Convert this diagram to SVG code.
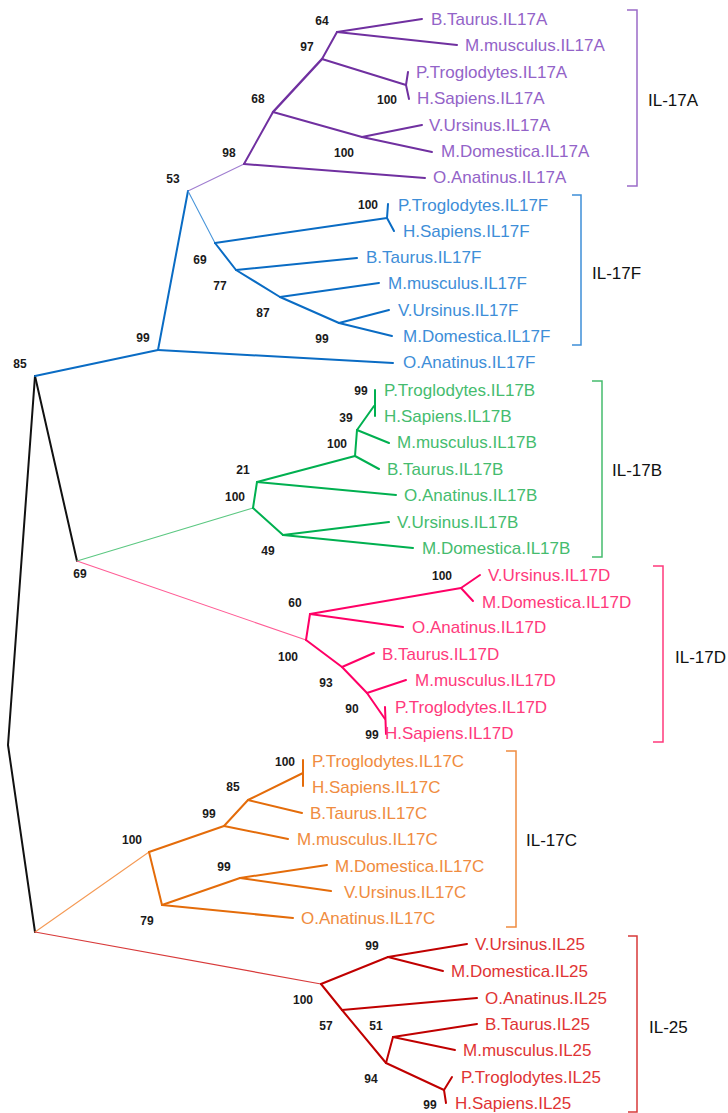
<svg xmlns="http://www.w3.org/2000/svg" width="728" height="1113" viewBox="0 0 728 1113">
<style>
.bg{fill:#ffffff}
.e{fill:none;stroke-width:2;stroke-linecap:round;stroke-linejoin:round}
.t{stroke-width:1.1}
.k{stroke:#111111}
.pA{stroke:#7030A0}.pAt{stroke:#A07ED0}
.pF{stroke:#0A6CC4}.pFt{stroke:#4A96DA}
.pB{stroke:#00B050}.pBt{stroke:#5CC882}
.pD{stroke:#FF0066}.pDt{stroke:#FF5C95}
.pC{stroke:#E46C0A}.pCt{stroke:#F59A55}
.pR{stroke:#C00000}.pRt{stroke:#D83A3A}
.leaf{font-family:"Liberation Sans",Arial,sans-serif;font-size:17px}
.cA{fill:#9363C8}.cF{fill:#3E8ED8}.cB{fill:#45BC6E}.cD{fill:#FF3A7C}.cC{fill:#F08C40}.cR{fill:#E03434}
.bs{font-family:"Liberation Sans",Arial,sans-serif;font-size:12px;font-weight:bold;fill:#1a1a1a;text-anchor:middle}
.grp{font-family:"Liberation Sans",Arial,sans-serif;font-size:17px;fill:#111111}
.br{fill:none;stroke-width:1.5}
.bA{stroke:#9A6BC8}.bF{stroke:#3E8ED8}.bB{stroke:#45BC6E}.bD{stroke:#FF3A7C}.bC{stroke:#F08C40}.bR{stroke:#D83A3A}
</style>
<rect class="bg" x="0" y="0" width="728" height="1113"/>
<g id="connectors">
  <path class="e k" d="M35,376 L77,561"/>
  <path class="e k" d="M35,376 L8,745 L35,932"/>
  <!-- IL-17A -->
  <path class="e t pAt" d="M188,191 L244,164"/>
  <path class="e pA" d="M244,164 L273,112"/>
  <path class="e pA" style="stroke-width:2.5" d="M273,112 L322,59"/>
  <path class="e pA" d="M322,59 L337,32"/>
  <path class="e pA" d="M337,32 L422,19"/>
  <path class="e pA" d="M337,32 L457,45"/>
  <path class="e pA" d="M322,59 L406,85"/>
  <path class="e pA" d="M408,72 L406,85 L409,99"/>
  <path class="e pA" d="M273,112 L362,137"/>
  <path class="e pA" d="M362,137 L422,125"/>
  <path class="e pA" d="M362,137 L432,152"/>
  <path class="e pA" d="M244,164 L425,178"/>
  <!-- IL-17F -->
  <path class="e pF" d="M35,376 L158,350"/>
  <path class="e pF" d="M158,350 L188,191"/>
  <path class="e pF" d="M158,350 L393,363"/>
  <path class="e t pFt" d="M188,191 L215,243"/>
  <path class="e pF" d="M215,243 L236,270 L280,297 L339,323"/>
  <path class="e pF" d="M215,243 L387,218"/>
  <path class="e pF" d="M388,204 L387,218 L394,231"/>
  <path class="e pF" d="M236,270 L357,258"/>
  <path class="e pF" d="M280,297 L379,283"/>
  <path class="e pF" d="M339,323 L389,310"/>
  <path class="e pF" d="M339,323 L392,336"/>
  <!-- IL-17B -->
  <path class="e t pBt" d="M77,561 L253,508"/>
  <path class="e pB" d="M253,508 L257,482"/>
  <path class="e pB" d="M253,508 L283,535"/>
  <path class="e pB" d="M283,535 L389,522"/>
  <path class="e pB" d="M283,535 L413,548"/>
  <path class="e pB" d="M257,482 L396,495"/>
  <path class="e pB" d="M257,482 L355,456"/>
  <path class="e pB" d="M355,456 L379,469"/>
  <path class="e pB" d="M355,456 L357,430"/>
  <path class="e pB" d="M357,430 L389,443"/>
  <path class="e pB" d="M357,430 L374,406"/>
  <path class="e pB" d="M375,390 L375,416"/>
  <!-- IL-17D -->
  <path class="e t pDt" d="M77,561 L306,640"/>
  <path class="e pD" d="M306,640 L310,614"/>
  <path class="e pD" d="M310,614 L461,588"/>
  <path class="e pD" d="M480,575 L461,588 L473,601"/>
  <path class="e pD" d="M310,614 L403,627"/>
  <path class="e pD" d="M306,640 L342,667 L367,693 L385,719"/>
  <path class="e pD" d="M342,667 L374,653"/>
  <path class="e pD" d="M367,693 L406,680"/>
  <path class="e pD" d="M385,707 L386,734"/>
  <!-- IL-17C -->
  <path class="e t pCt" d="M35,932 L149,852"/>
  <path class="e pC" d="M149,852 L224,826 L248,800 L303,773"/>
  <path class="e pC" d="M303,760 L303,786"/>
  <path class="e pC" d="M248,800 L302,813"/>
  <path class="e pC" d="M224,826 L288,839"/>
  <path class="e pC" d="M149,852 L162,905"/>
  <path class="e pC" d="M162,905 L240,878"/>
  <path class="e pC" d="M240,878 L327,865"/>
  <path class="e pC" d="M240,878 L331,891"/>
  <path class="e pC" d="M162,905 L293,918"/>
  <!-- IL-25 -->
  <path class="e t pRt" d="M35,932 L321,984"/>
  <path class="e pR" d="M321,984 L388,957"/>
  <path class="e pR" d="M388,957 L467,944"/>
  <path class="e pR" d="M388,957 L443,971"/>
  <path class="e pR" d="M321,984 L342,1010"/>
  <path class="e pR" d="M342,1010 L477,998"/>
  <path class="e pR" d="M342,1010 L386,1063"/>
  <path class="e pR" d="M386,1063 L393,1037"/>
  <path class="e pR" d="M393,1037 L477,1024"/>
  <path class="e pR" d="M393,1037 L455,1050"/>
  <path class="e pR" d="M386,1063 L444,1090"/>
  <path class="e pR" d="M452,1077 L444,1090 L446,1103"/>
</g>
<g id="bootstrap">
  <g id="n-root"><text class="bs" x="20" y="368">85</text></g>
  <g id="n-69"><text class="bs" x="80" y="578">69</text></g>
  <g id="n-A"><text class="bs" x="322" y="25">64</text><text class="bs" x="307" y="51">97</text><text class="bs" x="387" y="104">100</text><text class="bs" x="258" y="103">68</text><text class="bs" x="344" y="157">100</text><text class="bs" x="229" y="157">98</text><text class="bs" x="173" y="183">53</text></g>
  <g id="n-F"><text class="bs" x="368" y="209">100</text><text class="bs" x="200" y="264">69</text><text class="bs" x="220" y="290">77</text><text class="bs" x="263" y="317">87</text><text class="bs" x="322" y="343">99</text><text class="bs" x="143" y="342">99</text></g>
  <g id="n-B"><text class="bs" x="361" y="395">99</text><text class="bs" x="346" y="422">39</text><text class="bs" x="337" y="448">100</text><text class="bs" x="243" y="474">21</text><text class="bs" x="235" y="501">100</text><text class="bs" x="268" y="555">49</text></g>
  <g id="n-D"><text class="bs" x="442" y="580">100</text><text class="bs" x="295" y="607">60</text><text class="bs" x="288" y="661">100</text><text class="bs" x="326" y="687">93</text><text class="bs" x="352" y="713">90</text><text class="bs" x="372" y="739">99</text></g>
  <g id="n-C"><text class="bs" x="285" y="766">100</text><text class="bs" x="233" y="791">85</text><text class="bs" x="209" y="818">99</text><text class="bs" x="132" y="844">100</text><text class="bs" x="224" y="871">99</text><text class="bs" x="147" y="925">79</text></g>
  <g id="n-R"><text class="bs" x="372" y="950">99</text><text class="bs" x="303" y="1004">100</text><text class="bs" x="326" y="1030">57</text><text class="bs" x="376" y="1030">51</text><text class="bs" x="371" y="1083">94</text><text class="bs" x="430" y="1109">99</text></g>
</g>
<g id="clade-IL17A">
  <g id="BT-A"><text class="leaf cA" x="431" y="25">B.Taurus.IL17A</text></g>
  <g id="MM-A"><text class="leaf cA" x="465" y="51">M.musculus.IL17A</text></g>
  <g id="PT-A"><text class="leaf cA" x="416" y="78">P.Troglodytes.IL17A</text></g>
  <g id="HS-A"><text class="leaf cA" x="417" y="104">H.Sapiens.IL17A</text></g>
  <g id="VU-A"><text class="leaf cA" x="429" y="131">V.Ursinus.IL17A</text></g>
  <g id="MD-A"><text class="leaf cA" x="441" y="157">M.Domestica.IL17A</text></g>
  <g id="OA-A"><text class="leaf cA" x="433" y="183">O.Anatinus.IL17A</text></g>
  <path class="br bA" d="M627,10 H637 V186 H627"/>
  <text class="grp" x="648" y="106">IL-17A</text>
</g>
<g id="clade-IL17F">
  <g id="PT-F"><text class="leaf cF" x="398" y="211">P.Troglodytes.IL17F</text></g>
  <g id="HS-F"><text class="leaf cF" x="403" y="237">H.Sapiens.IL17F</text></g>
  <g id="BT-F"><text class="leaf cF" x="366" y="263">B.Taurus.IL17F</text></g>
  <g id="MM-F"><text class="leaf cF" x="388" y="289">M.musculus.IL17F</text></g>
  <g id="VU-F"><text class="leaf cF" x="398" y="316">V.Ursinus.IL17F</text></g>
  <g id="MD-F"><text class="leaf cF" x="403" y="342">M.Domestica.IL17F</text></g>
  <g id="OA-F"><text class="leaf cF" x="403" y="368">O.Anatinus.IL17F</text></g>
  <path class="br bF" d="M572,195 H581 V345 H572"/>
  <text class="grp" x="592" y="279">IL-17F</text>
</g>
<g id="clade-IL17B">
  <g id="PT-B"><text class="leaf cB" x="384" y="396">P.Troglodytes.IL17B</text></g>
  <g id="HS-B"><text class="leaf cB" x="384" y="422">H.Sapiens.IL17B</text></g>
  <g id="MM-B"><text class="leaf cB" x="397" y="448">M.musculus.IL17B</text></g>
  <g id="BT-B"><text class="leaf cB" x="387" y="475">B.Taurus.IL17B</text></g>
  <g id="OA-B"><text class="leaf cB" x="404" y="501">O.Anatinus.IL17B</text></g>
  <g id="VU-B"><text class="leaf cB" x="397" y="528">V.Ursinus.IL17B</text></g>
  <g id="MD-B"><text class="leaf cB" x="422" y="554">M.Domestica.IL17B</text></g>
  <path class="br bB" d="M592,381 H602 V557 H592"/>
  <text class="grp" x="612" y="476">IL-17B</text>
</g>
<g id="clade-IL17D">
  <g id="VU-D"><text class="leaf cD" x="488" y="581">V.Ursinus.IL17D</text></g>
  <g id="MD-D"><text class="leaf cD" x="482" y="608">M.Domestica.IL17D</text></g>
  <g id="OA-D"><text class="leaf cD" x="412" y="633">O.Anatinus.IL17D</text></g>
  <g id="BT-D"><text class="leaf cD" x="382" y="660">B.Taurus.IL17D</text></g>
  <g id="MM-D"><text class="leaf cD" x="415" y="686">M.musculus.IL17D</text></g>
  <g id="PT-D"><text class="leaf cD" x="395" y="713">P.Troglodytes.IL17D</text></g>
  <g id="HS-D"><text class="leaf cD" x="385" y="739">H.Sapiens.IL17D</text></g>
  <path class="br bD" d="M653,566 H663 V742 H653"/>
  <text class="grp" x="675" y="663">IL-17D</text>
</g>
<g id="clade-IL17C">
  <g id="PT-C"><text class="leaf cC" x="312" y="767">P.Troglodytes.IL17C</text></g>
  <g id="HS-C"><text class="leaf cC" x="312" y="793">H.Sapiens.IL17C</text></g>
  <g id="BT-C"><text class="leaf cC" x="310" y="819">B.Taurus.IL17C</text></g>
  <g id="MM-C"><text class="leaf cC" x="297" y="845">M.musculus.IL17C</text></g>
  <g id="MD-C"><text class="leaf cC" x="335" y="872">M.Domestica.IL17C</text></g>
  <g id="VU-C"><text class="leaf cC" x="344" y="898">V.Ursinus.IL17C</text></g>
  <g id="OA-C"><text class="leaf cC" x="301" y="924">O.Anatinus.IL17C</text></g>
  <path class="br bC" d="M506,751 H516 V927 H506"/>
  <text class="grp" x="526" y="846">IL-17C</text>
</g>
<g id="clade-IL25">
  <g id="VU-R"><text class="leaf cR" x="475" y="950">V.Ursinus.IL25</text></g>
  <g id="MD-R"><text class="leaf cR" x="451" y="977">M.Domestica.IL25</text></g>
  <g id="OA-R"><text class="leaf cR" x="485" y="1004">O.Anatinus.IL25</text></g>
  <g id="BT-R"><text class="leaf cR" x="485" y="1030">B.Taurus.IL25</text></g>
  <g id="MM-R"><text class="leaf cR" x="463" y="1056">M.musculus.IL25</text></g>
  <g id="PT-R"><text class="leaf cR" x="461" y="1083">P.Troglodytes.IL25</text></g>
  <g id="HS-R"><text class="leaf cR" x="455" y="1109">H.Sapiens.IL25</text></g>
  <path class="br bR" d="M628,936 H637 V1112 H628"/>
  <text class="grp" x="649" y="1033">IL-25</text>
</g>
</svg>
